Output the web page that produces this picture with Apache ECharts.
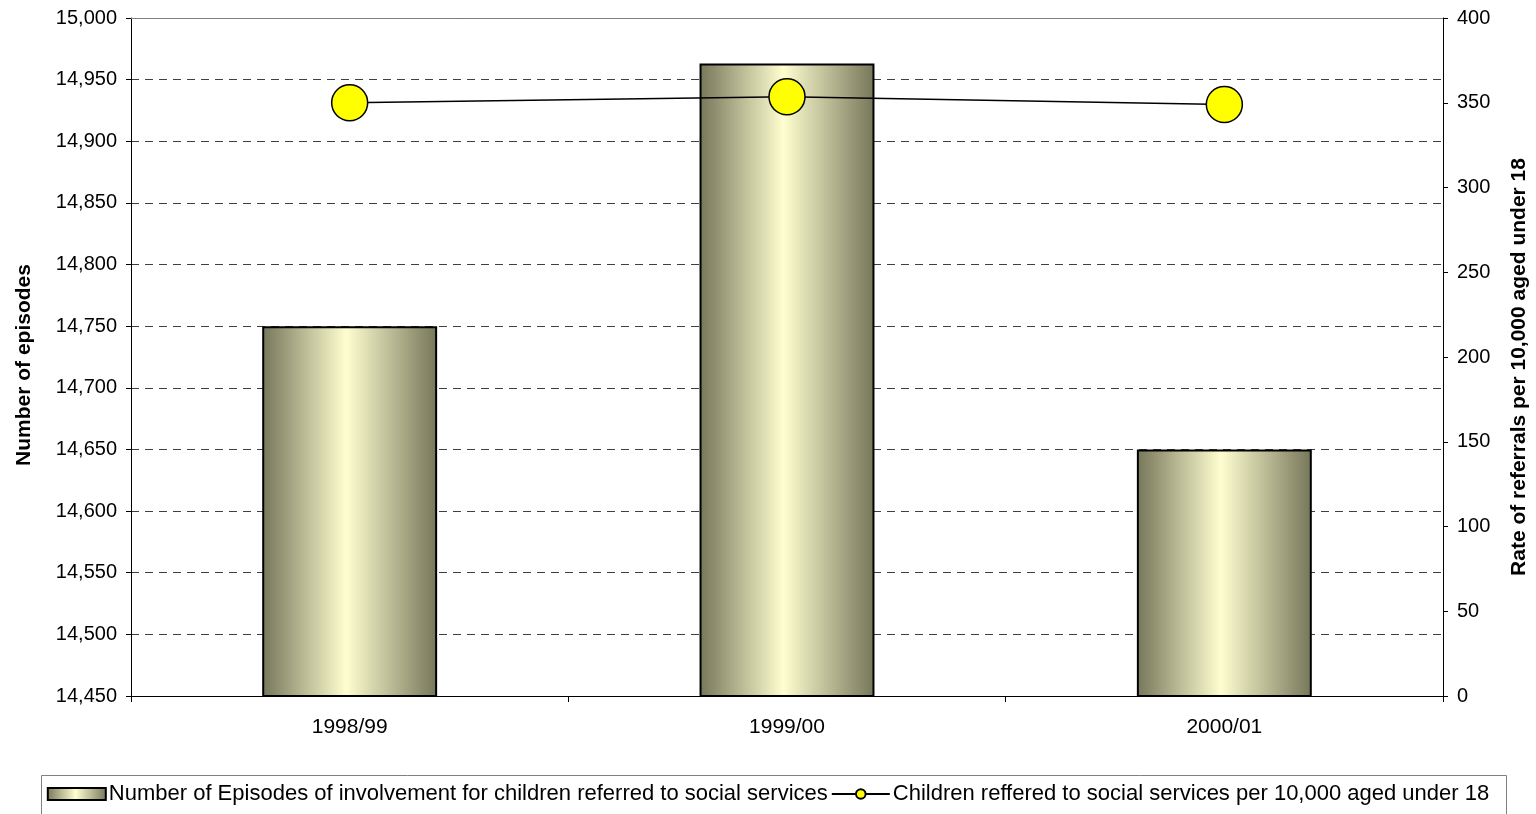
<!DOCTYPE html>
<html>
<head>
<meta charset="utf-8">
<script src="https://cdn.jsdelivr.net/npm/echarts@6/dist/echarts.min.js"></script>
<style>
html,body{margin:0;padding:0;background:#fff;}
#chart{width:1536px;height:814px;}
</style>
</head>
<body>
<div id="chart"></div>
<script>
const categories = ['1998/99', '1999/00', '2000/01'];
const episodes = [14750, 14963, 14650];
const ratePer10000 = [350, 353.5, 349];
const barName = 'Number of Episodes of involvement for children referred to social services';
const lineName = 'Children reffered to social services per 10,000 aged under 18';

const font = 'Arial, "Liberation Sans", sans-serif';
const barGradient = new echarts.graphic.LinearGradient(0, 0, 1, 0, [
  {offset: 0, color: '#76765a'},
  {offset: 0.48, color: '#fefed0'},
  {offset: 1, color: '#76765a'}
]);

const chart = echarts.init(document.getElementById('chart'));
chart.setOption({
  animation: false,
  backgroundColor: '#fff',
  grid: {left: 131, right: 93, top: 18, bottom: 118, containLabel: false, outerBoundsMode: 'none'},
  graphic: [{
    type: 'rect', left: 39, top: 773,
    shape: {width: 1465, height: 45},
    style: {fill: 'none', stroke: '#808080', lineWidth: 1}
  }],
  legend: {
    left: 'center', top: 778,
    itemWidth: 58, itemHeight: 12, itemGap: 3,
    textStyle: {fontFamily: font, fontSize: 22, color: '#000', padding: [0, 0, 0, -2]},
    data: [
      {name: barName, icon: 'rect', itemStyle: {color: barGradient, borderColor: '#000', borderWidth: 2}},
      {name: lineName}
    ]
  },
  xAxis: [{
    type: 'category', data: categories, position: 'bottom',
    axisLine: {lineStyle: {color: '#000', width: 1}},
    axisTick: {show: true, length: 6, lineStyle: {color: '#000'}},
    axisLabel: {fontFamily: font, fontSize: 21, color: '#000', margin: 21}
  }, {
    type: 'category', data: categories, position: 'top',
    axisLine: {show: true, lineStyle: {color: '#808080', width: 1}},
    axisTick: {show: false}, axisLabel: {show: false}
  }],
  yAxis: [{
    type: 'value', min: 14450, max: 15000, interval: 50, position: 'left',
    name: 'Number of episodes', nameLocation: 'middle', nameGap: 96, nameRotate: 90,
    nameTextStyle: {fontFamily: font, fontSize: 21, fontWeight: 'bold', color: '#000', padding: [0, 16, 0, 0]},
    axisLine: {show: true, lineStyle: {color: '#000'}},
    axisTick: {show: true, length: 5, lineStyle: {color: '#000'}},
    axisLabel: {fontFamily: font, fontSize: 20, color: '#000', margin: 14,
      formatter: v => v.toLocaleString('en-US')},
    splitLine: {show: true, lineStyle: {color: '#404040', type: [8, 6], width: 1}}
  }, {
    type: 'value', min: 0, max: 400, interval: 50, position: 'right',
    name: 'Rate of referrals per 10,000 aged under 18', nameLocation: 'middle', nameGap: 66, nameRotate: 90,
    nameTextStyle: {fontFamily: font, fontSize: 21, fontWeight: 'bold', color: '#000', padding: [0, 20, 0, 0]},
    axisLine: {show: true, lineStyle: {color: '#000'}},
    axisTick: {show: true, length: 5, lineStyle: {color: '#000'}},
    axisLabel: {fontFamily: font, fontSize: 20, color: '#000', margin: 14},
    splitLine: {show: false}
  }],
  series: [{
    name: barName, type: 'bar', data: episodes, barWidth: '40%',
    itemStyle: {color: barGradient, borderColor: '#000', borderWidth: 2}
  }, {
    name: lineName, type: 'line', yAxisIndex: 1, data: ratePer10000,
    symbol: 'circle', symbolSize: 36,
    lineStyle: {color: '#000', width: 1.5},
    itemStyle: {color: '#ffff00', borderColor: '#000', borderWidth: 1.5}
  }]
});
</script>
</body>
</html>
